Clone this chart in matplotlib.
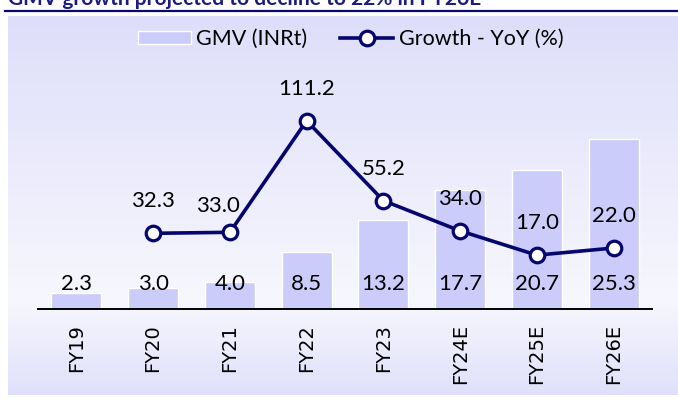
import numpy as np
import matplotlib
matplotlib.use('Agg')
from matplotlib import pyplot as plt

plt.rcParams['font.family'] = ['Lato', 'DejaVu Sans']

# data
years = ['FY19', 'FY20', 'FY21', 'FY22', 'FY23', 'FY24E', 'FY25E', 'FY26E']
gmv = [2.3, 3.0, 4.0, 8.5, 13.2, 17.7, 20.7, 25.3]
growth_years = ['FY20', 'FY21', 'FY22', 'FY23', 'FY24E', 'FY25E', 'FY26E']
growth = [32.3, 33.0, 111.2, 55.2, 34.0, 17.0, 22.0]
title = 'GMV growth projected to decline to 22% in FY26E'

W, H = 678, 403
fig = plt.figure(figsize=(W / 100, H / 100), dpi=100)
fig.patch.set_facecolor('white')

# gradient panel behind the chart
bg = fig.add_axes([8 / W, 8 / H, 670 / W, 379 / H])
bg.set_axis_off()
ys = np.linspace(0, 1, 200)
top = np.array([222, 222, 250]) / 255
mid = np.array([247, 247, 254]) / 255
bot = np.array([224, 224, 250]) / 255
k = 0.75
grad = np.zeros((200, 1, 3))
for i, t in enumerate(ys):
    if t < k:
        grad[i, 0] = top + (mid - top) * (t / k)
    else:
        grad[i, 0] = mid + (bot - mid) * ((t - k) / (1 - k))
bg.imshow(grad, aspect='auto', extent=[0, 1, 0, 1], origin='upper')
bg.set_xlim(0, 1)
bg.set_ylim(0, 1)

# title (cropped at top, as in the source) and rule
fig.text(8 / W, 1 - 5 / H, title, fontsize=15, fontweight='bold', color='#1B1B80', va='baseline', ha='left')
fig.add_artist(plt.Line2D([5 / W, 1], [1 - 11 / H, 1 - 11 / H], color='#0A0A6E', lw=1.6, transform=fig.transFigure))

# main axes
ax = fig.add_axes([38 / W, (H - 308.5) / H, 614 / W, 248.5 / H])
ax.patch.set_alpha(0)
x = np.arange(len(years))
bars = ax.bar(x, gmv, width=0.652, color='#CCCCFA', edgecolor='white', linewidth=1, label='GMV (INRt)', zorder=2)
ax.set_xlim(-0.5, len(years) - 0.5)
ax.set_ylim(0, 248.5 / 6.7)
for s in ['top', 'right', 'left']:
    ax.spines[s].set_visible(False)
ax.spines['bottom'].set_linewidth(1.4)
ax.spines['bottom'].set_color('black')
ax.set_yticks([])
ax.set_xticks(x)
ax.set_xticklabels(years, rotation=90, fontsize=14, family='DejaVu Sans')
ax.tick_params(axis='x', length=0, pad=11)
for xi, v in zip(x, gmv):
    ax.annotate(f'{v:.1f}', (xi, 0), xytext=(0, 24), textcoords='offset pixels',
                ha='center', va='center', fontsize=16, zorder=5)

# growth line on secondary axis
ax2 = ax.twinx()
ax2.patch.set_alpha(0)
gx = [years.index(g) for g in growth_years]
line, = ax2.plot(gx, growth, color='#05056E', lw=2.6, marker='o', markersize=10.5,
                 markerfacecolor='white', markeredgecolor='#05056E', markeredgewidth=2.3,
                 label='Growth - YoY (%)', zorder=4)
ax2.set_ylim(-(308.5 - 279.4) / 1.427, (279.4 - 60) / 1.427)
ax2.set_yticks([])
for s in ['top', 'right', 'left', 'bottom']:
    ax2.spines[s].set_visible(False)
for xi, v in zip(gx, growth):
    dx, dy = 0, 32
    if v == 33.0:
        dx, dy = -12, 26
    ax2.annotate(f'{v:.1f}', (xi, v), xytext=(dx, dy), textcoords='offset pixels',
                 ha='center', va='center', fontsize=16)

fig.legend([bars, line], ['GMV (INRt)', 'Growth - YoY (%)'], loc='center',
           bbox_to_anchor=(350.5 / W, 1 - 39 / H), ncol=2, frameon=False, fontsize=15.5,
           handlelength=2.45, handleheight=0.6, handletextpad=0.25, columnspacing=1.55)

fig.savefig('out.png', dpi=100)
